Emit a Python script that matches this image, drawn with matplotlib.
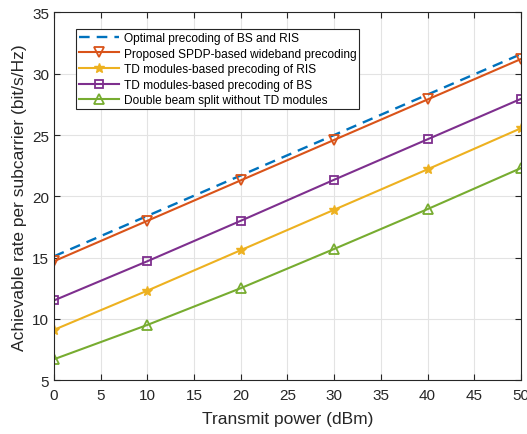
import matplotlib
matplotlib.use("Agg")
import matplotlib.pyplot as plt
import numpy as np

plt.rcParams["font.family"] = ["Liberation Sans", "DejaVu Sans"]

power = [0, 10, 20, 30, 40, 50]
optimal = [15.1, 18.4, 21.7, 25.0, 28.3, 31.6]
proposed = [14.7, 18.0, 21.3, 24.6, 27.9, 31.2]
td_ris = [9.1, 12.3, 15.6, 18.9, 22.2, 25.55]
td_bs = [11.5, 14.7, 18.0, 21.35, 24.65, 27.95]
double_split = [6.7, 9.5, 12.5, 15.7, 18.95, 22.3]

fig = plt.figure(figsize=(5.27, 4.35), dpi=100)
ax = fig.add_axes([0.1025, 0.124, 0.886, 0.845])

ax.plot(power, optimal, "--", color="#0072BD", linewidth=1.7, dashes=(4.5, 3),
        label="Optimal precoding of BS and RIS")
ax.plot(power, proposed, "-", color="#D95319", linewidth=1.5, marker="v", markersize=7,
        markerfacecolor="none", markeredgewidth=1.3, label="Proposed SPDP-based wideband precoding")
ax.plot(power, td_ris, "-", color="#EDB120", linewidth=1.5, marker="*", markersize=7.5,
        label="TD modules-based precoding of RIS")
ax.plot(power, td_bs, "-", color="#7E2F8E", linewidth=1.5, marker="s", markersize=5.5,
        markerfacecolor="none", markeredgewidth=1.3, label="TD modules-based precoding of BS")
ax.plot(power, double_split, "-", color="#77AC30", linewidth=1.5, marker="^", markersize=7,
        markerfacecolor="none", markeredgewidth=1.3, label="Double beam split without TD modules")

ax.set_xlim(0, 50)
ax.set_ylim(5, 35)
ax.set_xticks(np.arange(0, 51, 5))
ax.set_yticks(np.arange(5, 36, 5))
ax.grid(True, color="#e3e3e3", linewidth=0.8)
ax.set_axisbelow(True)
ax.tick_params(direction="in", top=True, right=True, labelsize=11, colors="#262626", length=4)
ax.tick_params(axis="x", pad=6)
for s in ax.spines.values():
    s.set_color("#262626")
    s.set_linewidth(0.8)

ax.set_xlabel("Transmit power (dBm)", fontsize=12.5, color="#262626", labelpad=6)
ax.set_ylabel("Achievable rate per subcarrier (bit/s/Hz)", fontsize=12.5, color="#262626")

leg = ax.legend(loc="upper left", bbox_to_anchor=(0.048, 0.955), fontsize=8.6, frameon=True,
                fancybox=False, edgecolor="#262626", framealpha=1, handlelength=3.3,
                borderpad=0.25, labelspacing=0.3, handletextpad=0.4, borderaxespad=0)
leg.get_frame().set_linewidth(0.8)

fig.savefig("out.png", dpi=100)
